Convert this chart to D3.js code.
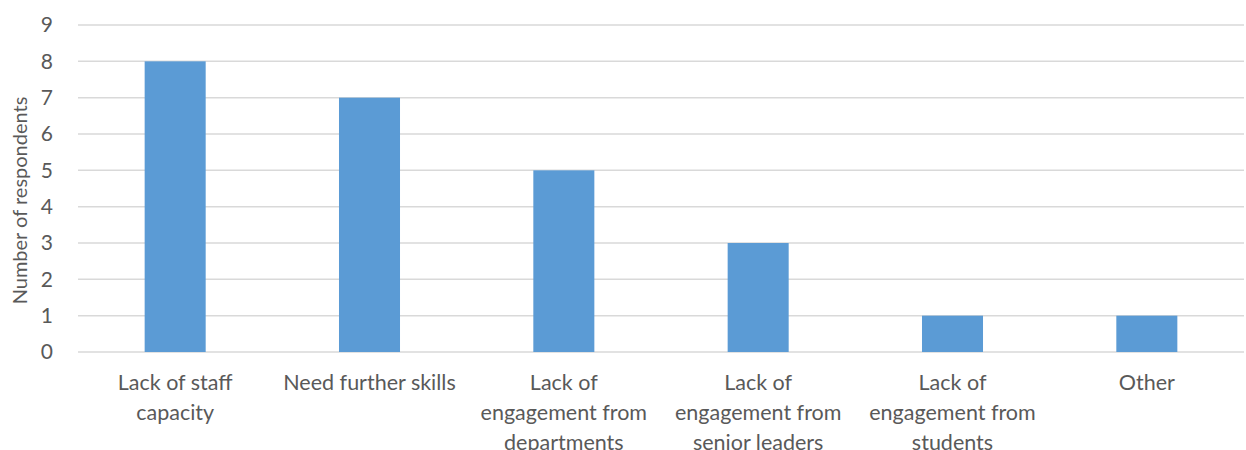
<!DOCTYPE html>
<html>
<head>
<meta charset="utf-8">
<script src="https://cdn.jsdelivr.net/npm/d3@7"></script>
<style>
  html, body { margin: 0; padding: 0; background: #fff; overflow: hidden; }
  svg { display: block; font-family: Lato, "Open Sans", sans-serif; }
</style>
</head>
<body>
<div id="chart"></div>
<script>
// chart values
const categories = [
    ["Lack of staff", "capacity"],
    ["Need further skills"],
    ["Lack of", "engagement from", "departments"],
    ["Lack of", "engagement from", "senior leaders"],
    ["Lack of", "engagement from", "students"],
    ["Other"]
];
const respondents = [8, 7, 5, 3, 1, 1];
const yTicks = [0, 1, 2, 3, 4, 5, 6, 7, 8, 9];
const yTitle = "Number of respondents";

const width = 1246, height = 450;
const margin = { top: 25, right: 2, bottom: 98, left: 78 };

const svg = d3.select("#chart").append("svg")
    .attr("width", width)
    .attr("height", height);

const xScale = d3.scaleBand()
    .domain(d3.range(categories.length))
    .range([margin.left, width - margin.right])
    .paddingInner(0.686)
    .paddingOuter(0.343);

const yScale = d3.scaleLinear()
    .domain([0, 9])
    .range([height - margin.bottom, margin.top]);

// gridlines
svg.append("g")
    .selectAll("line")
    .data(yTicks)
    .enter()
    .append("line")
    .attr("x1", margin.left)
    .attr("x2", width - margin.right)
    .attr("y1", d => yScale(d))
    .attr("y2", d => yScale(d))
    .attr("stroke", "#d9d9d9")
    .attr("stroke-width", 1.5);

// y axis labels
const yAxis = d3.axisLeft(yScale).tickValues(yTicks).tickSize(0).tickPadding(0);
svg.append("g")
    .attr("transform", `translate(${margin.left - 25},0)`)
    .call(yAxis)
    .call(g => g.select(".domain").remove())
    .selectAll("text")
    .attr("font-family", "Lato, 'Open Sans', sans-serif")
    .attr("font-size", 21)
    .attr("fill", "#595959");

// bars
svg.append("g")
    .selectAll("rect")
    .data(respondents)
    .enter()
    .append("rect")
    .attr("x", (d, i) => xScale(i))
    .attr("y", d => yScale(d))
    .attr("width", xScale.bandwidth())
    .attr("height", d => yScale(0) - yScale(d))
    .attr("fill", "#5b9bd5");

// category labels
const catLabels = svg.append("g")
    .selectAll("text")
    .data(categories)
    .enter()
    .append("text")
    .attr("text-anchor", "middle")
    .attr("font-size", 21.5)
    .attr("fill", "#595959")
    .attr("x", (d, i) => xScale(i) + xScale.bandwidth() / 2)
    .attr("y", 390);

catLabels.selectAll("tspan")
    .data(d => d)
    .enter()
    .append("tspan")
    .attr("x", function () { return d3.select(this.parentNode).attr("x"); })
    .attr("dy", (d, i) => i === 0 ? 0 : 30)
    .text(d => d);

// y axis title
svg.append("text")
    .attr("transform", `translate(27, ${(yScale(0) + yScale(9)) / 2 + 12}) rotate(-90)`)
    .attr("text-anchor", "middle")
    .attr("font-size", 20)
    .attr("fill", "#595959")
    .text(yTitle);
</script>
</body>
</html>
